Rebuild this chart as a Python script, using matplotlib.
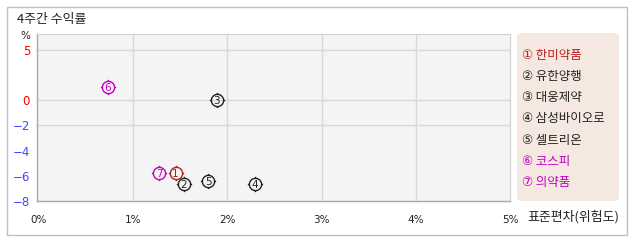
import numpy as np
import matplotlib
matplotlib.use("Agg")
import matplotlib.pyplot as plt
from matplotlib.path import Path
from matplotlib.patches import FancyBboxPatch, Rectangle

plt.rcParams['font.family'] = ['Noto Sans CJK KR', 'DejaVu Sans']

# ---- data ----
title = "4주간 수익률"
names = ['한미약품', '유한양행', '대웅제약', '삼성바이오로', '셀트리온', '코스피', '의약품']
symbols = ['①', '②', '③', '④', '⑤', '⑥', '⑦']
digits = ['1', '2', '3', '4', '5', '6', '7']
risk = [1.45, 1.54, 1.89, 2.29, 1.80, 0.73, 1.28]      # 표준편차 (%)
ret = [-5.82, -6.69, 0.0, -6.69, -6.4, 1.3, -5.82]      # 4주 수익률 (%)
xticks = [0, 1, 2, 3, 4, 5]
xticklabels = ['0%', '1%', '2%', '3%', '4%', '5%']
yticks = [5, 0, -2, -4, -6, -8]
ygrid = [5, 0, -2]
xlabel = "표준편차(위험도)"
ylabel = "%"

# ---- style ----
RED = '#b42020'
MAG = '#c000c0'
DARK = '#222222'
item_colors = [RED, DARK, DARK, DARK, DARK, MAG, MAG]

fig = plt.figure(figsize=(6.38, 2.42), dpi=100)
W, H = 638, 242

def fx(px):
    return px / W

def fy(py):
    return 1 - py / H

# outer border
fig.patches.append(Rectangle((fx(7), fy(235)), fx(620), 228 / H, transform=fig.transFigure,
                             fill=False, edgecolor='#c0c0c0', linewidth=1.0))

ax = fig.add_axes([fx(37), fy(201), fx(473), 167 / H])
ax.set_facecolor('#f4f4f4')

k = 1.26
def fwd(y):
    y = np.asarray(y, dtype=float)
    return np.where(y >= 0, y, y * k)
def inv(v):
    v = np.asarray(v, dtype=float)
    return np.where(v >= 0, v, v / k)
ax.set_yscale('function', functions=(fwd, inv))
ax.set_ylim(-8, 6.6)
ax.set_xlim(-0.02, 5)

# grid
for g in ygrid:
    ax.axhline(g, color='#d8d8d8', linewidth=1.0, zorder=0)
for g in xticks[1:-1]:
    ax.axvline(g, color='#d8d8d8', linewidth=1.0, zorder=0)

for s in ['top', 'right']:
    ax.spines[s].set_color('#d0d0d0')
    ax.spines[s].set_linewidth(0.8)
for s in ['left', 'bottom']:
    ax.spines[s].set_color('#a8a8a8')
    ax.spines[s].set_linewidth(1.0)

ax.set_xticks(xticks)
ax.set_xticklabels(xticklabels, fontsize=7.5, color='#222222', family='DejaVu Sans')
ax.set_yticks(yticks)
ax.set_yticklabels([str(t) if t >= 0 else '\u2212' + str(-t) for t in yticks],
                   fontsize=8.5, family='DejaVu Sans')
for lab, t in zip(ax.get_yticklabels(), yticks):
    lab.set_color('#ff0000' if t >= 0 else '#4646ff')
ax.tick_params(axis='both', length=0)
ax.tick_params(axis='y', pad=5)
ax.tick_params(axis='x', pad=10)

# marker: circle + four small ticks
theta = np.linspace(0, 2 * np.pi, 41)
circ = Path(np.column_stack([np.cos(theta), np.sin(theta)]))
segs = []
for dx, dy in [(1, 0), (-1, 0), (0, 1), (0, -1)]:
    segs.append(Path([(dx * 1.0, dy * 1.0), (dx * 1.25, dy * 1.25)], [Path.MOVETO, Path.LINETO]))
marker_path = Path.make_compound_path(circ, *segs)

for i in range(len(names)):
    ax.plot([risk[i]], [ret[i]], linestyle='none', marker=marker_path, markersize=11,
            markerfacecolor='none', markeredgecolor=item_colors[i], markeredgewidth=1.0,
            zorder=3, clip_on=False)
    ax.annotate(digits[i], (risk[i], ret[i]), xytext=(0, -2.7), textcoords='offset points',
                fontsize=7.5, color=item_colors[i], ha='center', va='baseline',
                family='DejaVu Sans', zorder=4)

# title & labels
fig.text(fx(17), fy(19), title, fontsize=9.3, color='#222222', ha='left', va='center')
fig.text(fx(25), fy(36), ylabel, fontsize=7.5, color='#222222', ha='center', va='center',
         family='DejaVu Sans')
fig.text(fx(527), fy(217), xlabel, fontsize=9.3, color='#222222', ha='left', va='center')

# legend box
fig.patches.append(FancyBboxPatch((fx(517), fy(201)), fx(102), 168 / H,
                                  boxstyle='round,pad=0,rounding_size=0.012',
                                  transform=fig.transFigure, facecolor='#f5e8e1',
                                  edgecolor='none', zorder=0))
for i in range(len(names)):
    y = 55 + i * 21.3
    fig.text(fx(522), fy(y), symbols[i] + '\u2009' + names[i], fontsize=9, color=item_colors[i],
             ha='left', va='center', family=['DejaVu Sans', 'Noto Sans CJK KR'])

fig.savefig('out.png', dpi=100)
